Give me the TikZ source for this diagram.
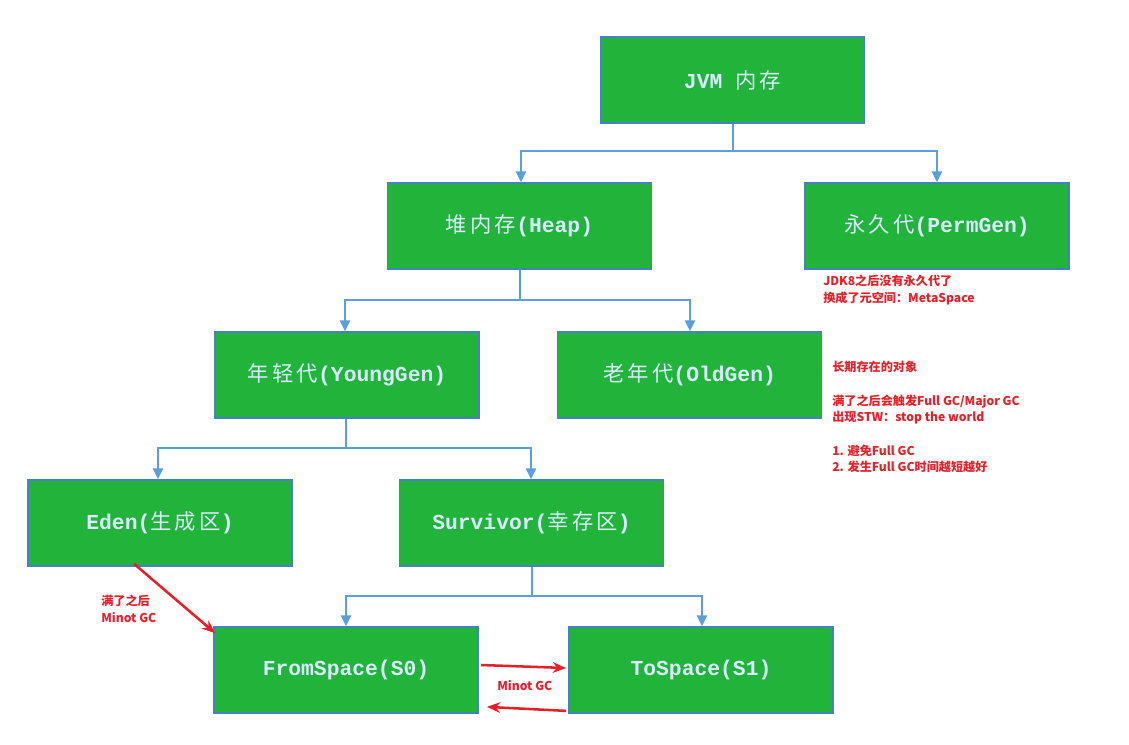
\documentclass[tikz,border=0pt]{standalone}
\usepackage{fontspec}
\setmainfont{Noto Sans CJK SC}
\newfontfamily\latm[BoldFont={Liberation Mono Bold}]{Liberation Mono}
\newfontfamily\cjkbox[LetterSpace=15]{Noto Sans CJK SC}
\newcommand{\latword}[1]{{\latm\bfseries #1}}
\usetikzlibrary{arrows.meta,calc}
\definecolor{boxgreen}{RGB}{34,179,58}
\definecolor{boxline}{RGB}{70,130,195}
\definecolor{connblue}{RGB}{91,160,220}
\definecolor{boxtext}{RGB}{218,236,255}
\definecolor{notered}{RGB}{230,32,40}
\tikzset{
  box/.style={draw=boxline, line width=1.3pt, fill=boxgreen, minimum width=198pt, minimum height=64.5pt, inner sep=0pt, text=boxtext, font=\fontsize{16}{18}\selectfont\cjkbox},
  conn/.style={draw=connblue, line width=1.5pt},
  connarr/.style={conn, -{Triangle[width=7.5pt,length=8pt]}},
  redarr/.style={draw=notered, line width=1.9pt, -{Stealth[width=8pt,length=10pt]}},
  note/.style={text=notered, font=\fontsize{9.1}{12.5}\selectfont\bfseries, anchor=north west, align=left, inner sep=0pt}
}
\begin{document}
\begin{tikzpicture}[x=0.75pt,y=-0.75pt]
\useasboundingbox (0,0) rectangle (1129,744);
\node[box] (jvm) at (732.5,80) {\latword{JVM }内存};
\node[box] (heap) at (519.5,226) {堆内存\latword{(Heap)}};
\node[box] (perm) at (937,226) {永久代\latword{(PermGen)}};
\node[box] (young) at (347,375) {年轻代\latword{(YoungGen)}};
\node[box] (old) at (689.5,375) {老年代\latword{(OldGen)}};
\node[box] (eden) at (160,523) {\latword{Eden(}生成区\latword{)}};
\node[box] (surv) at (531.5,523) {\latword{Survivor(}幸存区\latword{)}};
\node[box] (from) at (346,670) {\latword{FromSpace(S0)}};
\node[box] (to) at (701,670) {\latword{ToSpace(S1)}};
% blue tree connectors
\coordinate (j1) at (jvm.south |- 0,151);
\draw[connarr] (jvm.south) -- (j1) -| ($(heap.north)+(1.5,0)$);
\draw[connarr] (j1) -| (perm.north);
\coordinate (h1) at ($(heap.south)+(0.5,0)$);
\coordinate (h2) at (h1 |- 0,300);
\draw[connarr] (h1) -- (h2) -| ($(young.north)+(-2,0)$);
\draw[connarr] (h2) -| ($(old.north)+(0.5,0)$);
\coordinate (y1) at ($(young.south)+(-1,0)$);
\coordinate (y2) at (y1 |- 0,448);
\draw[connarr] (y1) -- (y2) -| ($(eden.north)+(-2,0)$);
\draw[connarr] (y2) -| ($(surv.north)+(-0.5,0)$);
\coordinate (s1) at ($(surv.south)+(0.5,0)$);
\coordinate (s2) at (s1 |- 0,596);
\draw[connarr] (s1) -- (s2) -| (from.north);
\draw[connarr] (s2) -| ($(to.north)+(1,0)$);
% red arrows
\draw[redarr] ($(eden.south west)+(107,-3)$) -- ($(from.north west)+(2,7)$);
\draw[redarr] ($(from.east)+(2,-5)$) -- ($(to.west)+(-2,-2)$);
\draw[redarr] ($(to.south west)+(-2,-3)$) -- ($(from.south east)+(8,-7)$);
% notes
\node[note] (n1) at (101,595) {满了之后\\Minot GC};
\node[note] (n2) at (497,680) {Minot GC};
\node[note] (n3) at (823,275) {JDK8之后没有永久代了\\换成了元空间：MetaSpace};
\node[note] (n4) at (832,361) {长期存在的对象\\[12.5pt]满了之后会触发Full GC/Major GC\\出现STW：stop the world\\[12.5pt]1. 避免Full GC\\2. 发生Full GC时间越短越好};
\end{tikzpicture}
\end{document}
